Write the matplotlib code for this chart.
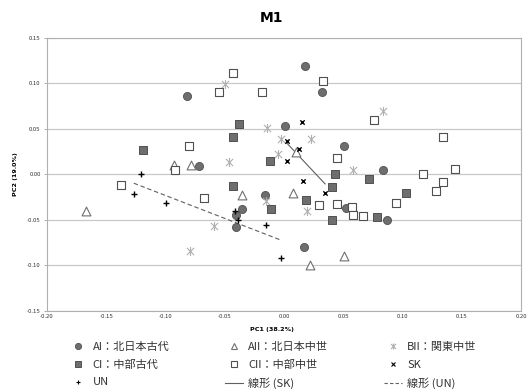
import numpy as np
import matplotlib
matplotlib.use("Agg")
import matplotlib.pyplot as plt
from matplotlib.lines import Line2D
from matplotlib.path import Path

plt.rcParams['font.family'] = ['Noto Sans CJK JP', 'DejaVu Sans']

# ---- data (PC1, PC2) ----
AI_x = [-0.082, 0.0177, 0.0318, 0.0008, -0.0717, 0.0506, 0.0833, 0.0523, 0.0867,
        -0.016, -0.0354, -0.0402, -0.0408, 0.0171]
AI_y = [0.086, 0.119, 0.091, 0.053, 0.0096, 0.031, 0.0044, -0.037, -0.0497,
        -0.022, -0.0379, -0.044, -0.058, -0.0798]

AII_x = [-0.093, -0.0785, 0.0101, -0.0352, 0.0073, -0.167, 0.0506, 0.0217]
AII_y = [0.010, 0.0107, 0.025, -0.023, -0.0206, -0.0397, -0.0894, -0.0993]

BII_x = [-0.050, -0.0146, -0.0025, 0.0228, -0.0053, -0.0464, 0.0838, 0.0585,
         -0.0155, 0.0191, -0.0593, -0.0793]
BII_y = [0.099, 0.051, 0.0386, 0.0386, 0.022, 0.0136, 0.070, 0.0044,
         -0.0287, -0.0397, -0.0566, -0.084]

CI_x = [-0.119, -0.0382, -0.0433, -0.0118, 0.0433, 0.0717, 0.1027, 0.0402,
        -0.0433, -0.0107, 0.0402, 0.0183, 0.0785]
CI_y = [0.0265, 0.055, 0.041, 0.0143, 0.0008, -0.0048, -0.020, -0.014,
        -0.0129, -0.0383, -0.0497, -0.0276, -0.047]

CII_x = [-0.092, -0.0433, -0.055, -0.0188, 0.0326, -0.080, 0.045, 0.0757, 0.134,
         0.117, 0.144, 0.134, 0.1285, 0.0948, 0.0571, 0.058, 0.0664, -0.1376,
         -0.0675, 0.0295, 0.045]
CII_y = [0.0045, 0.112, 0.0905, 0.0905, 0.1026, 0.031, 0.018, 0.0596, 0.041,
         0.0005, 0.0058, -0.0088, -0.0184, -0.031, -0.036, -0.044, -0.0456, -0.0121,
         -0.026, -0.0334, -0.0328]

SK_x = [0.0152, 0.0028, 0.013, 0.0023, 0.0158, 0.0346]
SK_y = [0.0577, 0.0364, 0.0283, 0.015, -0.0074, -0.020]

UN_x = [-0.1204, -0.1268, -0.0998, -0.041, -0.039, -0.0155, -0.0023]
UN_y = [0.0, -0.0217, -0.0312, -0.0397, -0.050, -0.0555, -0.092]

labels = ["AI：北日本古代", "AII：北日本中世", "BII：関東中世", "CI：中部古代",
          "CII：中部中世", "SK", "UN", "線形 (SK)", "線形 (UN)"]
title = "M1"
xlabel = "PC1 (38.2%)"
ylabel = "PC2 (19.0%)"
xticks = [-0.20, -0.15, -0.10, -0.05, 0.00, 0.05, 0.10, 0.15, 0.20]
yticks = [-0.15, -0.10, -0.05, 0.00, 0.05, 0.10, 0.15]

# Excel-style star marker: an "x" with a vertical bar
star = Path([(-1, -1), (1, 1), (-1, 1), (1, -1), (0, -1.25), (0, 1.25)],
            [Path.MOVETO, Path.LINETO, Path.MOVETO, Path.LINETO, Path.MOVETO, Path.LINETO])

fig = plt.figure(figsize=(5.28, 3.9), dpi=100)
ax = fig.add_axes([0.089, 0.2026, 0.898, 0.70])

grid_c = '#c8c8c8'
for yv in yticks:
    ax.axhline(yv, color=grid_c, lw=0.9, zorder=0)

dark = '#6e6e6e'
edge = '#505050'
star_c = '#b0b0b0'
ax.scatter(AI_x, AI_y, s=34, marker='o', facecolor=dark, edgecolor=edge, linewidths=0.6, zorder=3)
ax.scatter(AII_x, AII_y, s=40, marker='^', facecolor='white', edgecolor='#707070', linewidths=0.8, zorder=3)
ax.scatter(BII_x, BII_y, s=42, marker=star, color=star_c, linewidths=0.8, zorder=3)
ax.scatter(CI_x, CI_y, s=32, marker='s', facecolor=dark, edgecolor='#404040', linewidths=0.6, zorder=3)
ax.scatter(CII_x, CII_y, s=32, marker='s', facecolor='white', edgecolor='#505050', linewidths=0.8, zorder=3)
ax.scatter(SK_x, SK_y, s=10, marker='x', color='black', linewidths=1.0, zorder=4)
ax.scatter(UN_x, UN_y, s=14, marker='+', color='black', linewidths=1.0, zorder=4)

# trend lines (least squares over data range)
skx = np.array(SK_x); sky = np.array(SK_y)
p = np.polyfit(skx, sky, 1)
xs = np.array([skx.min(), skx.max()])
ax.plot(xs, np.polyval(p, xs), color='#606060', lw=0.8, zorder=2)
unx = np.array(UN_x); uny = np.array(UN_y)
q = np.polyfit(unx, uny, 1)
xu = np.array([unx.min(), unx.max()])
ax.plot(xu, np.polyval(q, xu), color='#606060', lw=0.8, ls=(0, (4, 2.5)), zorder=2)

ax.set_xlim(-0.20, 0.20)
ax.set_ylim(-0.15, 0.15)
ax.set_xticks(xticks)
ax.set_yticks(yticks)
ax.set_xticklabels([f"{v:.2f}" for v in xticks])
ax.set_yticklabels([f"{v:.2f}" for v in yticks])
ax.tick_params(axis='both', labelsize=4.3, length=2.5, width=0.6, color='#a0a0a0', labelcolor='#333333', pad=2)
ax.tick_params(axis='x', length=0)
for s in ax.spines.values():
    s.set_color('#b0b0b0')
    s.set_linewidth(0.8)

fig.text(0.515, 0.953, title, ha='center', va='center', fontsize=10, fontweight='bold', family=['DejaVu Sans'])
fig.text(0.515, 0.154, xlabel, ha='center', va='center', fontsize=4.6, fontweight='bold', family=['DejaVu Sans'])
fig.text(0.030, 0.553, ylabel, ha='center', va='center', rotation=90, fontsize=4.6, fontweight='bold', family=['DejaVu Sans'])

h = [
    Line2D([], [], ls='none', marker='o', ms=4.5, mfc=dark, mec=edge, mew=0.6),
    Line2D([], [], ls='none', marker='s', ms=4.5, mfc=dark, mec='#404040', mew=0.6),
    Line2D([], [], ls='none', marker='+', ms=3.5, color='black', mew=0.8),
    Line2D([], [], ls='none', marker='^', ms=4.5, mfc='white', mec='#707070', mew=0.8),
    Line2D([], [], ls='none', marker='s', ms=4.5, mfc='white', mec='#505050', mew=0.8),
    Line2D([], [], color='#606060', lw=0.8),
    Line2D([], [], ls='none', marker=star, ms=4.5, color=star_c, mew=0.8),
    Line2D([], [], ls='none', marker='x', ms=3, color='black', mew=0.8),
    Line2D([], [], color='#606060', lw=0.8, ls=(0, (3, 2))),
]
lab = [labels[0], labels[3], labels[6], labels[1], labels[4], labels[7], labels[2], labels[5], labels[8]]
fig.legend(h, lab, ncol=3, loc='center', bbox_to_anchor=(0.517, 0.063), frameon=False,
           fontsize=8, handlelength=1.6, handletextpad=0.5, columnspacing=5.0,
           labelspacing=0.7, labelcolor='#333333')

fig.savefig('out.png', dpi=100)
